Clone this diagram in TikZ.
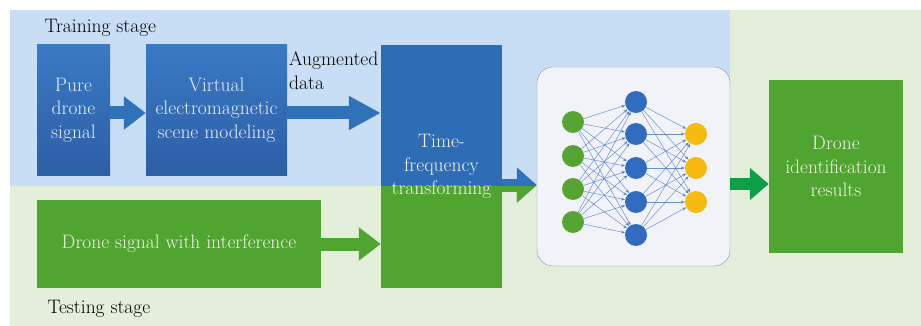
\documentclass[tikz,border=0pt]{standalone}
\usepackage{xcolor}
\usepackage{tikz}
\usetikzlibrary{arrows.meta}

\definecolor{bgblue}{HTML}{C8DEF4}
\definecolor{bggreen}{HTML}{E3EFDA}
\definecolor{boxblueA}{HTML}{3A79C4}
\definecolor{boxblueB}{HTML}{2B5FA6}
\definecolor{boxblue}{HTML}{2F6CB6}
\definecolor{boxgreen}{HTML}{4FA52F}
\definecolor{arrowblue}{HTML}{2E72B8}
\definecolor{arrowgreen}{HTML}{0E9E48}
\definecolor{bluetext}{HTML}{E6EFF9}
\definecolor{greentext}{HTML}{EEF6E6}
\definecolor{panelfill}{HTML}{F2F3F8}
\definecolor{paneldraw}{HTML}{8291A8}
\definecolor{nngreen}{HTML}{56A532}
\definecolor{nnblue}{HTML}{2F6CC0}
\definecolor{nnorange}{HTML}{F7BA10}
\definecolor{linkblue}{HTML}{4A78C8}

\begin{document}
\begin{tikzpicture}[
    x=1pt, y=-1pt,
    font=\fontsize{19.5}{23.5}\selectfont,
    bluebox/.style={top color=boxblueA, bottom color=boxblueB, text=bluetext, align=center, inner sep=0pt},
    greenbox/.style={fill=boxgreen, text=greentext, align=center, inner sep=0pt},
    blockarrow/.style={line width=13pt, -{Triangle[length=22pt, width=32pt]}},
    neuron/.style={circle, minimum size=22pt, inner sep=0pt},
    link/.style={draw=linkblue, draw opacity=0.8, line width=0.5pt, -{Stealth[length=4pt, width=3pt]}}
]
  \useasboundingbox (0,0) rectangle (921,326);

  % --- BACKGROUND (training / testing) ---
  \fill[bggreen] (10,10) rectangle (921,326);
  \fill[bgblue] (10,10) rectangle (730,186);
  \coordinate (stageline) at (0,186);

  \node[anchor=base west] (train) at (41,33) {Training stage};
  \node[anchor=base west] (test) at (44,313) {Testing stage};

  % --- TRAINING STAGE ---
  \node[bluebox, minimum width=73pt, minimum height=130pt] (pure) at (73.5,110) {Pure\\drone\\signal};
  \node[bluebox, minimum width=141pt, minimum height=130pt] (virtual) at (216.5,110) {Virtual\\electromagnetic\\scene modeling};
  \node[anchor=north west, align=left, inner sep=0pt] (aug) at (289,52) {Augmented\\data};

  % --- TESTING STAGE ---
  \node[greenbox, minimum width=284pt, minimum height=88pt] (interf) at (179,244) {Drone signal with interference};

  % --- TIME-FREQUENCY (split over both stages) ---
  \node[greenbox, minimum width=121pt, minimum height=243pt,
        path picture={\fill[boxblue] (path picture bounding box.north west) rectangle (path picture bounding box.east |- stageline);}]
        (tf) at (441.5,166.5) {Time-\\frequency\\transforming};

  % --- NETWORK PANEL ---
  \node[draw=paneldraw, fill=panelfill, rounded corners=16pt, minimum width=193pt, minimum height=199pt] (nn) at (633.5,166.5) {};
  \foreach \y [count=\i] in {122,156,189,222}
    \node[neuron, fill=nngreen] (in\i) at (573,\y) {};
  \foreach \y [count=\j] in {102,134,168,202,235}
    \node[neuron, fill=nnblue] (hid\j) at (636,\y) {};
  \foreach \y [count=\k] in {134,168,202}
    \node[neuron, fill=nnorange] (out\k) at (696,\y) {};
  \foreach \i in {1,...,4}
    \foreach \j in {1,...,5}
      \draw[link] (in\i) -- (hid\j);
  \foreach \j in {1,...,5}
    \foreach \k in {1,...,3}
      \draw[link] (hid\j) -- (out\k);

  % --- RESULT ---
  \node[greenbox, minimum width=134pt, minimum height=173pt] (res) at (836,166.5) {Drone\\identification\\results};

  % Connection arrows
  \draw[blockarrow, arrowblue] ([yshift=-3pt]pure.east) -- ([yshift=-3pt]virtual.west);
  \draw[blockarrow, arrowblue, -{Triangle[length=32pt, width=32pt]}] ([yshift=-3pt]virtual.east) -- ([yshift=-3pt]virtual.east -| tf.west);
  \draw[blockarrow, boxgreen] (interf.east) -- (interf.east -| tf.west);
  \draw[blockarrow, arrowblue, -{Triangle[length=20pt, width=34pt]}] ([yshift=-18.5pt]tf.east) -- ([yshift=-18.5pt]tf.east -| nn.west);
  \begin{scope}
    \clip (500,186) rectangle (540,210);
    \draw[blockarrow, boxgreen, -{Triangle[length=20pt, width=34pt]}] ([yshift=-18.5pt]tf.east) -- ([yshift=-18.5pt]tf.east -| nn.west);
  \end{scope}
  \draw[blockarrow, arrowgreen, line width=12pt, -{Triangle[length=19pt, width=31pt]}] ([yshift=-17.5pt]nn.east) -- ([yshift=-17.5pt]nn.east -| res.west);

\end{tikzpicture}
\end{document}
